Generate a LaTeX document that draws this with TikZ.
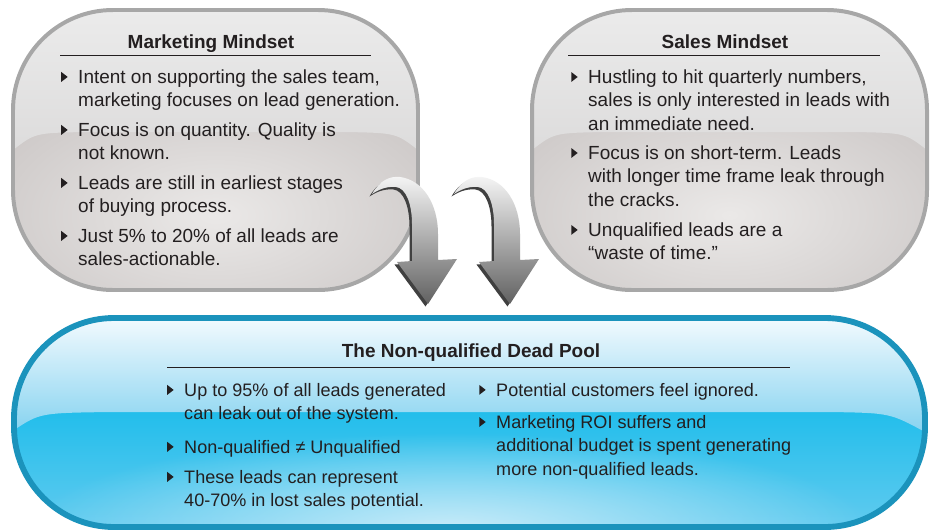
\documentclass[tikz,border=0pt]{standalone}
\usepackage{fontspec}
\setmainfont{Liberation Sans}
\usepackage{tikz}
\usetikzlibrary{positioning,fadings}

\definecolor{ink}{HTML}{231F20}
\definecolor{greyrim}{HTML}{A7A7A7}
\definecolor{greylow}{HTML}{C6C1C0}
\definecolor{greyglow}{HTML}{EBE9E8}
\definecolor{greyhi}{HTML}{EBEBEB}
\definecolor{greyhib}{HTML}{DDDCDC}
\definecolor{bluerim}{HTML}{1B93BC}
\definecolor{bluelow}{HTML}{1FBDEB}
\definecolor{bluelowb}{HTML}{62CBEF}
\definecolor{bluespot}{HTML}{C6EBF9}
\definecolor{bluehi}{HTML}{F2FAFE}
\definecolor{bluehib}{HTML}{86D3F0}

\tikzfading[name=glowfade, inner color=transparent!0, outer color=transparent!100]

% small triangle in front of each point
\newcommand{\bul}{\llap{\tikz[baseline=0pt]\fill[ink] (0pt,1pt) -- (0pt,9.5pt) -- (5.5pt,5.25pt) -- cycle;\hspace{9pt}}}

\tikzset{
  heading/.style={font=\bfseries\fontsize{16.2}{20}\selectfont, text=ink, inner sep=0pt, anchor=base},
  item/.style={font=\fontsize{16.2}{20}\selectfont, text=ink, align=left, inner sep=0pt, anchor=base west},
  poolitem/.style={item, font=\fontsize{15.4}{20}\selectfont},
  rule/.style={ink, line width=0.8pt},
  bentarrow/.pic={
    \fill[black!75] ([shift={(-2.5,2.5)}]-56,-110) .. controls ([shift={(-2.5,2.5)}]-48,-124) and ([shift={(-2.5,2.5)}]-38,-128) .. ([shift={(-2.5,2.5)}]-28,-127)
      .. controls ([shift={(-2.5,2.5)}]-5,-124) and ([shift={(-2.5,2.5)}]10,-100) .. ([shift={(-2.5,2.5)}]10,-70)
      -- ([shift={(-2.5,2.5)}]10,-44) -- ([shift={(-2.5,2.5)}]29,-45) -- ([shift={(-2.5,2.5)}]0,0) -- ([shift={(-2.5,2.5)}]-31,-42) -- ([shift={(-2.5,2.5)}]-16,-43)
      -- ([shift={(-2.5,2.5)}]-16,-80) .. controls ([shift={(-2.5,2.5)}]-16,-100) and ([shift={(-2.5,2.5)}]-22,-116) .. ([shift={(-2.5,2.5)}]-32,-117)
      .. controls ([shift={(-2.5,2.5)}]-42,-118) and ([shift={(-2.5,2.5)}]-50,-114) .. cycle;
    \shade[top color=white!96!black, bottom color=black!62] (-56,-110) .. controls (-48,-124) and (-38,-128) .. (-28,-127)
      .. controls (-5,-124) and (10,-100) .. (10,-70)
      -- (10,-44) -- (29,-45) -- (0,0) -- (-31,-42) -- (-16,-43)
      -- (-16,-80) .. controls (-16,-100) and (-22,-116) .. (-32,-117)
      .. controls (-42,-118) and (-50,-114) .. cycle;
  }
}

\begin{document}
\begin{tikzpicture}[x=0.03cm, y=-0.03cm]
\clip (0,0) rectangle (933,529);

% the two grey boxes
\foreach \l/\r in {13/418, 532/927} {
  \begin{scope}
    \clip[rounded corners=3cm] (\l,10) rectangle (\r,290);
    \fill[greylow] (\l,0) rectangle (\r,300);
    \fill[greyglow, path fading=glowfade] ({(\l+\r)/2},215) ellipse [x radius=320, y radius=170];
    \shade[top color=greyhi, bottom color=greyhib] (\l,10) -- (\l,150) .. controls (\l+22,133) .. (\l+72,132)
      -- (\r-72,132) .. controls (\r-22,133) .. (\r,150) -- (\r,10) -- cycle;
  \end{scope}
  \draw[greyrim, line width=3.4pt, rounded corners=3cm] (\l,10) rectangle (\r,290);
}

% the dead pool
\begin{scope}
  \clip[rounded corners=3cm] (14,318) rectangle (925,527);
  \shade[top color=bluelow, bottom color=bluelowb] (0,405) rectangle (933,530);
  \fill[bluespot, path fading=glowfade] (450,528) ellipse [x radius=420, y radius=95];
  \shade[top color=bluehi, bottom color=bluehib] (14,318) -- (14,430) .. controls (40,413) .. (110,412)
    -- (830,412) .. controls (890,413) .. (925,432) -- (925,318) -- cycle;
\end{scope}
\draw[bluerim, line width=5pt, rounded corners=3cm] (14,318) rectangle (925,527);

% arrows into the pool
\pic at (428,304) {bentarrow};
\begin{scope}[shift={(938,0)}, xscale=-1]
  \pic at (428,304) {bentarrow};
\end{scope}

% marketing (items sit on the baseline of their last line)
\node[heading] (mmhead) at (211,48) {Marketing Mindset};
\draw[rule] (60,55) -- (371,55);
\node[item] (mm1) at (78,106.5) {\bul Intent on supporting the sales team,\\marketing focuses on lead generation.};
\node[item] (mm2) at (78,159.5) {\bul Focus is on quantity. Quality is\\not known.};
\node[item] (mm3) at (78,212.5) {\bul Leads are still in earliest stages\\of buying process.};
\node[item] (mm4) at (78,265.5) {\bul Just 5\% to 20\% of all leads are\\sales-actionable.};

% sales
\node[heading] (smhead) at (725,48) {Sales Mindset};
\draw[rule] (568,55) -- (880,55);
\node[item] (sm1) at (588,130) {\bul Hustling to hit quarterly numbers,\\sales is only interested in leads with\\an immediate need.};
\node[item] (sm2) at (588,206) {\bul Focus is on short-term. Leads\\with longer time frame leak through\\the cracks.};
\node[item] (sm3) at (588,259.5) {\bul Unqualified leads are a\\“waste of time.”};

% pool
\node[heading] (dphead) at (471,357) {The Non-qualified Dead Pool};
\draw[rule] (167,367) -- (790,367);
\node[poolitem] (dp1) at (184,419.5) {\bul Up to 95\% of all leads generated\\can leak out of the system.};
\node[poolitem] (dp2) at (184,453) {\bul Non-qualified ≠ Unqualified};
\node[poolitem] (dp3) at (184,506.5) {\bul These leads can represent\\40-70\% in lost sales potential.};
\node[poolitem] (dp4) at (496,396) {\bul Potential customers feel ignored.};
\node[poolitem] (dp5) at (496,475) {\bul Marketing ROI suffers and\\additional budget is spent generating\\more non-qualified leads.};
\end{tikzpicture}
\end{document}
